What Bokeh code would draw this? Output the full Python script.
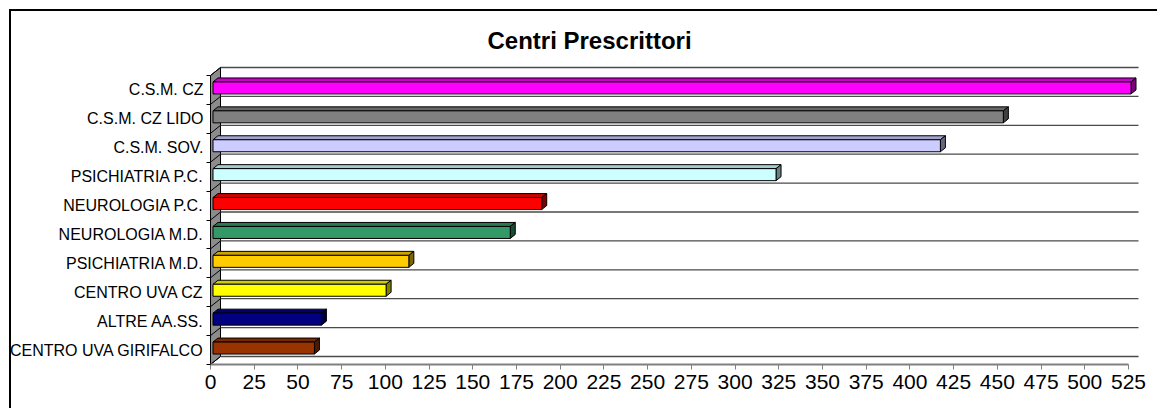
from bokeh.plotting import figure
from bokeh.models import Range1d, FixedTicker
from bokeh.embed import file_html
from bokeh.resources import INLINE

# ---------------- data ----------------
title_text = "Centri Prescrittori"
categories = ["C.S.M. CZ", "C.S.M. CZ LIDO", "C.S.M. SOV.", "PSICHIATRIA P.C.",
              "NEUROLOGIA P.C.", "NEUROLOGIA M.D.", "PSICHIATRIA M.D.",
              "CENTRO UVA CZ", "ALTRE AA.SS.", "CENTRO UVA GIRIFALCO"]
values = [525, 452, 416, 322, 188, 170, 112, 99, 62, 58]
colors = ["#FF00FF", "#808080", "#CCCCFF", "#CCFFFF", "#FF0000",
          "#339966", "#FFCC00", "#FFFF00", "#000080", "#993300"]
x_ticks = list(range(0, 526, 25))
x_max = 525

# ---------------- geometry (pixels) ----------------
n = len(categories)
PX_X = 918 / x_max          # px per value unit
PX_Y = 28.9                 # px per category band
DXW = 10 / PX_X             # wall depth (x)
DYW = 8 / PX_Y              # wall depth (y)
BAR_H = 12 / PX_Y
Z0, Z1 = 0.25, 0.75

FONT = "Liberation Sans"

p = figure(width=1157, height=408, output_backend="svg", toolbar_location=None,
           x_range=Range1d(-2 / PX_X, x_max + 12 / PX_X),
           y_range=Range1d(-2 / PX_Y, (n * PX_Y + 8 + 2) / PX_Y),
           min_border_left=208, min_border_right=17,
           min_border_top=65, min_border_bottom=42)
p.outline_line_color = None
p.background_fill_color = "white"
p.border_fill_color = "white"
p.border_fill_alpha = 0
p.xgrid.visible = False
p.ygrid.visible = False

# outer chart border (left and top edges visible in the window)
p.styles = {
    "background-color": "white",
    "background-image": "linear-gradient(#000,#000), linear-gradient(#000,#000)",
    "background-size": "2px 600px, 1400px 2px",
    "background-position": "9px 9px, 9px 9px",
    "background-repeat": "no-repeat",
}

# title
p.title.text = title_text
p.title.text_font = FONT
p.title.text_font_size = "24px"
p.title.text_font_style = "bold"
p.title.text_color = "black"
p.title.align = "left"
p.title.offset = 279
p.title.standoff = 24

# x axis
p.xaxis.ticker = FixedTicker(ticks=x_ticks, minor_ticks=[])
p.xaxis.axis_line_color = None
p.xaxis.major_tick_line_color = "#808080"
p.xaxis.major_tick_line_width = 1
p.xaxis.major_tick_in = 2
p.xaxis.major_tick_out = 3
p.xaxis.major_label_standoff = 5
p.xaxis.major_label_text_font = FONT
p.xaxis.major_label_text_font_size = "21px"
p.xaxis.major_label_text_color = "black"

# y axis
rev = list(reversed(categories))
p.yaxis.ticker = FixedTicker(ticks=[i + 0.5 for i in range(n)], minor_ticks=list(range(n + 1)))
p.yaxis.major_label_overrides = {i + 0.5: rev[i] for i in range(n)}
p.yaxis.axis_line_color = None
p.yaxis.major_tick_line_color = None
p.yaxis.major_tick_in = 0
p.yaxis.major_tick_out = 0
p.yaxis.minor_tick_line_color = "black"
p.yaxis.minor_tick_in = 2
p.yaxis.minor_tick_out = 2
p.yaxis.major_label_standoff = 3
p.yaxis.major_label_text_font = FONT
p.yaxis.major_label_text_font_size = "16px"
p.yaxis.major_label_text_color = "black"

# floor (white) and left wall (gray)
p.patch([0, x_max, x_max + DXW, DXW], [0, 0, DYW, DYW], fill_color="white", line_color=None)
p.patch([0, 0, DXW, DXW], [0, n, n + DYW, DYW], fill_color="#8C8C8C",
        line_color="black", line_width=1)

# back-wall grid lines
p.multi_line([[DXW, x_max + DXW] for _ in range(n + 1)],
             [[k + DYW, k + DYW] for k in range(n + 1)],
             line_color="#4a4a4a", line_width=1.3)
# diagonals on left wall
p.segment(x0=[0] * (n + 1), y0=list(range(n + 1)),
          x1=[DXW] * (n + 1), y1=[k + DYW for k in range(n + 1)],
          line_color="black", line_width=1)
# front axis line
p.segment(x0=[0], y0=[0], x1=[x_max], y1=[0], line_color="#808080", line_width=2)


def shade(hexcol, f):
    h = hexcol.lstrip("#")
    r, g, b = (int(h[i:i + 2], 16) for i in (0, 2, 4))
    return "#%02x%02x%02x" % (int(r * f), int(g * f), int(b * f))


front_xs, front_ys, top_xs, top_ys, side_xs, side_ys = [], [], [], [], [], []
fcol, tcol, scol = [], [], []
for i, (v, c) in enumerate(zip(reversed(values), reversed(colors))):
    x0 = Z0 * DXW
    x1 = v + Z0 * DXW
    y0 = i + 0.5 - BAR_H / 2 + Z0 * DYW
    y1 = i + 0.5 + BAR_H / 2 + Z0 * DYW
    ddx = (Z1 - Z0) * DXW
    ddy = (Z1 - Z0) * DYW
    front_xs.append([x0, x1, x1, x0]); front_ys.append([y0, y0, y1, y1])
    top_xs.append([x0, x1, x1 + ddx, x0 + ddx]); top_ys.append([y1, y1, y1 + ddy, y1 + ddy])
    side_xs.append([x1, x1 + ddx, x1 + ddx, x1]); side_ys.append([y0, y0 + ddy, y1 + ddy, y1])
    fcol.append(c); tcol.append(shade(c, 0.8)); scol.append(shade(c, 0.5))

p.patches(top_xs, top_ys, fill_color=tcol, line_color="black", line_width=1)
p.patches(side_xs, side_ys, fill_color=scol, line_color="black", line_width=1)
p.patches(front_xs, front_ys, fill_color=fcol, line_color="black", line_width=1)

open("out.html", "w").write(file_html(p, INLINE))
